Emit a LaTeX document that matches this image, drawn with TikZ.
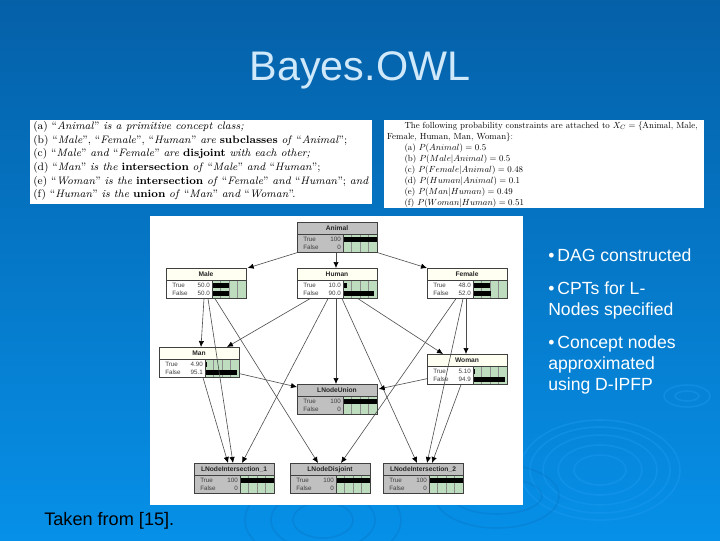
\documentclass[tikz,border=0pt]{standalone}
\usepackage{fontspec}
\setsansfont{Liberation Sans}
\usetikzlibrary{calc,arrows.meta}
\definecolor{bgtop}{HTML}{0560A8}
\definecolor{bgbot}{HTML}{0690E8}
\definecolor{ripple}{HTML}{1E9CF2}
\definecolor{rippledark}{HTML}{0670BE}
\definecolor{titleblue}{HTML}{CFE8FA}
\definecolor{cream}{HTML}{FFFFF2}
\definecolor{lgrey}{HTML}{C0C0C0}
\definecolor{cellgreen}{HTML}{BEDDBE}
\colorlet{bodycream}{white}
\colorlet{bodylgrey}{lgrey}
\tikzset{
  x=0.75pt,y=-0.75pt,
  ring/.style={draw=ripple,line width=1.2pt,opacity=.4},
  darkring/.style={draw=rippledark,line width=1.2pt,opacity=.3},
  panel/.style={fill=white,draw=none,inner sep=0pt},
  edge/.style={draw=black!70,line width=.45pt,-{Latex[length=4.5pt,width=4pt,black]}},
  box/.style={draw=black!75,line width=.5pt,inner sep=0pt,minimum width=60pt,minimum height=22.5pt,anchor=north west},
  ntitle/.style={font=\sffamily\bfseries\fontsize{5}{6}\selectfont,inner sep=0pt,text=black!85,text height=3.7pt,text depth=0.6pt},
  nrow/.style={font=\sffamily\fontsize{4.7}{6}\selectfont,inner sep=0pt,text=black!75,text height=3.4pt,text depth=0.2pt},
  slide/.style={font=\sffamily\fontsize{13.2}{15.8}\selectfont,inner sep=0pt,anchor=base west},
}
% name, x, y, title, true, false, true%, false%, title fill
\newcommand{\bnode}[9]{%
  \node[box,fill=body#9] (#1) at (#2,#3) {};
  \fill[#9] (#2,#3) rectangle (#2+80,#3+12);
  \fill[cellgreen] (#2+46,#3+12) rectangle (#2+80,#3+30);
  \foreach \c in {1,2,3}{\draw[black!45,line width=.25pt] (#2+46+\c*8.5,#3+12) -- (#2+46+\c*8.5,#3+30);}
  \fill[black] (#2+46.5,#3+15) rectangle (#2+46.5+#7*.335,#3+19.5);
  \fill[black] (#2+46.5,#3+23) rectangle (#2+46.5+#8*.335,#3+27.5);
  \draw[black!75,line width=.4pt] (#2+46,#3+12) -- (#2+46,#3+30);
  \draw[black!75,line width=.4pt] (#2,#3+12) -- (#2+80,#3+12);
  \node[ntitle] (#1t) at (#2+40,#3+6) {#4};
  \node[nrow,anchor=west] (#1a) at (#2+6,#3+17) {True};
  \node[nrow,anchor=west] (#1b) at (#2+6,#3+25) {False};
  \node[nrow,anchor=east] (#1c) at (#2+44,#3+17) {#5};
  \node[nrow,anchor=east] (#1d) at (#2+44,#3+25) {#6};
  \draw[black!75,line width=.5pt] (#1.south west) rectangle (#1.north east);
}
\begin{document}
\begin{tikzpicture}
\useasboundingbox (0,0) rectangle (720,540);
\shade[top color=bgtop,bottom color=bgbot] (0,0) rectangle (720,540);
% ripples
\foreach \r/\s in {26/15,42/25,57/35,70/43,80/50}{\draw[ring] (600,470) ellipse ({\r*.75pt} and {\s*.75pt});}
\foreach \r/\s in {12/5,23/11}{\draw[ring] (687,396) ellipse ({\r*.75pt} and {\s*.75pt});}
\foreach \r/\s in {30/18,52/30,78/44}{\draw[darkring] (323,520) ellipse ({\r*.75pt} and {\s*.75pt});}
\foreach \r/\s in {45/18,62/32}{\draw[darkring] (497,496) ellipse ({\r*.75pt} and {\s*.75pt});}
% title
\node[font=\sffamily\fontsize{31}{36}\selectfont,text=titleblue,inner sep=0pt] (ttl) at (360,70) {Bayes.OWL};
% text panels
\node[panel,anchor=north west,minimum width=256.5pt,minimum height=62.5pt] (pl) at (30,120) {};
\node[panel,anchor=north west,minimum width=239.5pt,minimum height=65.5pt] (pr) at (384,120) {};
\node[inner sep=0pt,anchor=north west,align=left,font=\fontsize{8.1}{10.25}\selectfont] (tl) at (33,121) {%
(a) ``\textit{Animal}'' \textit{is a primitive concept class;}\\
(b) ``\textit{Male}'', ``\textit{Female}'', ``\textit{Human}'' \textit{are} \textbf{subclasses} \textit{of} ``\textit{Animal}'';\\
(c) ``\textit{Male}'' \textit{and} ``\textit{Female}'' \textit{are} \textbf{disjoint} \textit{with each other;}\\
(d) ``\textit{Man}'' \textit{is the} \textbf{intersection} \textit{of} ``\textit{Male}'' \textit{and} ``\textit{Human}'';\\
(e) ``\textit{Woman}'' \textit{is the} \textbf{intersection} \textit{of} ``\textit{Female}'' \textit{and} ``\textit{Human}''; \textit{and}\\
(f) ``\textit{Human}'' \textit{is the} \textbf{union} \textit{of} ``\textit{Man}'' \textit{and} ``\textit{Woman}''.};
\node[inner sep=0pt,anchor=north west,align=left,scale=.666,font=\fontsize{10}{12.4}\selectfont] (tr) at (387,121.5) {%
\hspace*{19.5pt}The following probability constraints are attached to $X_C=\{$Animal, Male,\\
Female, Human, Man, Woman$\}$:\\
\hspace*{19.5pt}(a) $P(Animal)=0.5$\\
\hspace*{19.5pt}(b) $P(Male|Animal)=0.5$\\
\hspace*{19.5pt}(c) $P(Female|Animal)=0.48$\\
\hspace*{19.5pt}(d) $P(Human|Animal)=0.1$\\
\hspace*{19.5pt}(e) $P(Man|Human)=0.49$\\
\hspace*{19.5pt}(f) $P(Woman|Human)=0.51$};
% network panel
\node[panel,anchor=north west,minimum width=279.75pt,minimum height=216.75pt] (net) at (150,216) {};
\bnode{animal}{297}{222}{Animal}{100}{0}{100}{0}{lgrey}
\bnode{male}{166}{268}{Male}{50.0}{50.0}{50}{50}{cream}
\bnode{human}{297}{268}{Human}{10.0}{90.0}{10}{90}{cream}
\bnode{female}{427}{268}{Female}{48.0}{52.0}{48}{52}{cream}
\bnode{man}{159}{347}{Man}{4.90}{95.1}{4.9}{95.1}{cream}
\bnode{woman}{427}{354}{Woman}{5.10}{94.9}{5.1}{94.9}{cream}
\bnode{union}{297}{384}{LNodeUnion}{100}{0}{100}{0}{lgrey}
\bnode{isecone}{194}{463}{LNodeIntersection\_1}{100}{0}{100}{0}{lgrey}
\bnode{disj}{290}{463}{LNodeDisjoint}{100}{0}{100}{0}{lgrey}
\bnode{isectwo}{383}{463}{LNodeIntersection\_2}{100}{0}{100}{0}{lgrey}
% edges
\draw[edge] (animal.south west) -- ($(male.north east)+(1,0)$);
\draw[edge] ($(animal.south west)+(39,0)$) -- ($(human.north west)+(39,0)$);
\draw[edge] (animal.south east) -- (female.north west);
\draw[edge] ($(male.south west)+(38,0)$) -- ($(man.north west)+(42,0)$);
\draw[edge] ($(male.south west)+(42,0)$) -- ($(isecone.north west)+(39,0)$);
\draw[edge] ($(male.south west)+(49,0)$) -- ($(disj.north west)+(28,0)$);
\draw[edge] ($(human.south west)+(13,0)$) -- ($(man.north west)+(68,0)$);
\draw[edge] ($(human.south west)+(31,0)$) -- ($(isecone.north west)+(48,0)$);
\draw[edge] ($(human.south west)+(39,0)$) -- ($(union.north west)+(39,0)$);
\draw[edge] ($(human.south west)+(45,0)$) -- ($(isectwo.north west)+(34,0)$);
\draw[edge] ($(human.south west)+(61,0)$) -- ($(woman.north west)+(16,0)$);
\draw[edge] ($(female.south west)+(29,0)$) -- ($(disj.north west)+(51,0)$);
\draw[edge] ($(female.south west)+(36,0)$) -- ($(isectwo.north west)+(44,0)$);
\draw[edge] ($(female.south west)+(39,0)$) -- ($(woman.north west)+(39,0)$);
\draw[edge] ($(man.south west)+(44,0)$) -- ($(isecone.north west)+(34,0)$);
\draw[edge] ($(man.south east)+(0,-4)$) -- ($(union.north west)+(0,3)$);
\draw[edge] ($(woman.south west)+(0,-6)$) -- ($(union.north east)+(1,5)$);
\draw[edge] ($(woman.south west)+(34,0)$) -- ($(isectwo.north west)+(49,0)$);
% slide text
\node[slide,text=white] (b1) at (548,261) {\textbullet\,DAG constructed};
\node[slide,text=white] (b2) at (548,294) {\textbullet\,CPTs for L-};
\node[slide,text=white] (b3) at (548,315) {Nodes specified};
\node[slide,text=white] (b4) at (548,348) {\textbullet\,Concept nodes};
\node[slide,text=white] (b5) at (548,369) {approximated};
\node[slide,text=white] (b6) at (548,390) {using D-IPFP};
\node[slide,text=black,font=\sffamily\fontsize{13.6}{15.8}\selectfont] (src) at (44,525) {Taken from [15].};
\end{tikzpicture}
\end{document}
